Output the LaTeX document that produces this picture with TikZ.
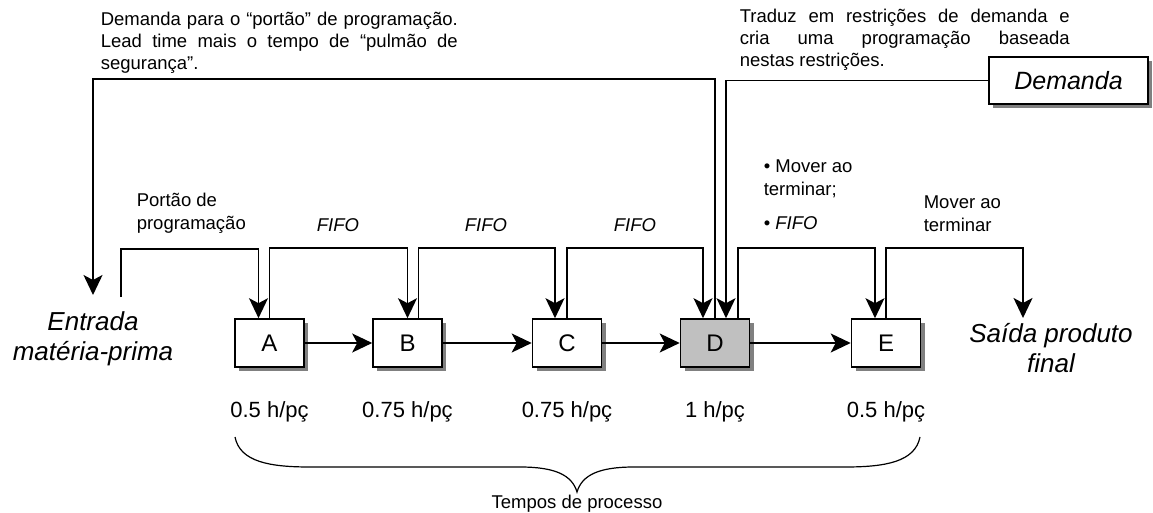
\documentclass[tikz,border=0pt]{standalone}
\usepackage{fontspec}
\setmainfont{Liberation Sans}
\usetikzlibrary{arrows.meta,shadows,calc}
\definecolor{shgray}{RGB}{128,128,128}
\definecolor{dgray}{RGB}{192,192,192}
\begin{document}
\begin{tikzpicture}[x=1pt,y=-1pt,line width=1.6pt,
  arr/.style={-{Stealth[length=20pt,width=19pt,inset=5pt]}},
  box/.style={draw, fill=white, minimum width=69pt, minimum height=48pt, inner sep=0pt,
    font=\fontsize{24}{28}\selectfont,
    drop shadow={shadow xshift=4pt, shadow yshift=-4pt, fill=shgray, opacity=1}},
  small/.style={font=\fontsize{18.5}{22}\selectfont, inner sep=0pt},
  big/.style={font=\fontsize{26}{30}\selectfont\itshape, inner sep=0pt, align=center},
  num/.style={font=\fontsize{22}{26}\selectfont, inner sep=0pt, anchor=base}]
\useasboundingbox (0,0) rectangle (1153,513);

% process boxes
\node[box] (A) at (269.5,343) {A};
\node[box] (B) at (407.5,343) {B};
\node[box] (C) at (567,343) {C};
\node[box, fill=dgray] (D) at (715,343) {D};
\node[box] (E) at (886,343) {E};

% demand box
\node[draw, fill=white, minimum width=159pt, minimum height=47pt, inner sep=0pt,
  font=\fontsize{25}{30}\selectfont\itshape,
  drop shadow={shadow xshift=4pt, shadow yshift=-4pt, fill=shgray, opacity=1}]
  (dem) at (1068.5,80.5) {Demanda};

% entry / exit
\node[big, anchor=base] (ent) at (93,360) {Entrada\\matéria-prima};
\node[big, anchor=base] (sai) at (1051,372) {Saída produto\\final};
\coordinate (ein) at (93,295);
\coordinate (eout) at (121,297);
\coordinate (sout) at (1023,318);

% flow arrows
\draw[arr] (A) -- (B);
\draw[arr] (B) -- (C);
\draw[arr] (C) -- (D);
\draw[arr] (D) -- (E);

% loops
\draw[arr] (eout) -- ++(0,-48) -| ([xshift=-11pt]A.north);
\draw[arr] (A.north) -- ++(0,-70) -| (B.north);
\draw[arr] ([xshift=11pt]B.north) -- ++(0,-70) -| ([xshift=-12pt]C.north);
\draw[arr] (C.north) -- ++(0,-70) -| ([xshift=-12pt]D.north);
\draw[arr] ([xshift=23pt]D.north) -- ++(0,-70) -| ([xshift=-11pt]E.north);
\draw[arr] (E.north) -- ++(0,-70) -| (sout);
\draw[arr] (D.north) -- ++(0,-239) -| (ein);
\draw[arr] (dem.west) -| ([xshift=11pt]D.north);

% top texts
\node[small, anchor=base west] (t1) at (100,26) {\parbox[t]{357pt}{\fontsize{18.5}{22}\selectfont
  \makebox[357pt][s]{Demanda para o “portão” de programação.}\\
  \makebox[357pt][s]{Lead time mais o tempo de “pulmão de}\\
  segurança”.}};
\node[small, anchor=base west] (t2) at (739,23) {\parbox[t]{330pt}{\fontsize{18.5}{22}\selectfont
  \makebox[330pt][s]{Traduz em restrições de demanda e}\\
  \makebox[330pt][s]{cria uma programação baseada}\\
  nestas restrições.}};

% loop labels
\node[small, anchor=base west] (lp) at (136,207) {\parbox[t]{150pt}{\fontsize{18.5}{22}\selectfont
  Portão de\\ programação}};
\node[small, anchor=base, font=\fontsize{18.5}{22}\selectfont\itshape] (f1) at (338,231) {FIFO};
\node[small, anchor=base, font=\fontsize{18.5}{22}\selectfont\itshape] (f2) at (486,231) {FIFO};
\node[small, anchor=base, font=\fontsize{18.5}{22}\selectfont\itshape] (f3) at (635,231) {FIFO};
\node[small, anchor=base west] (lm) at (763,173) {\parbox[t]{150pt}{\fontsize{18.5}{23}\selectfont
  • Mover ao\\ terminar;\\[11pt] • \textit{FIFO}}};
\node[small, anchor=base west] (lm2) at (923,208) {\parbox[t]{150pt}{\fontsize{18.5}{23}\selectfont
  Mover ao\\ terminar}};

% process times
\node[num] (nA) at (269.5,417) {0.5 h/pç};
\node[num] (nB) at (407.5,417) {0.75 h/pç};
\node[num] (nC) at (567,417) {0.75 h/pç};
\node[num] (nD) at (715,417) {1 h/pç};
\node[num] (nE) at (886,417) {0.5 h/pç};

% brace
\draw[line width=1.2pt] (235,437) .. controls (240,462) and (270,467) .. (310,467) -- (520,467)
  .. controls (555,467) and (572,475) .. (577,492)
  .. controls (582,475) and (599,467) .. (634,467) -- (845,467)
  .. controls (885,467) and (915,462) .. (920,437);
\node[small, anchor=base] (tp) at (577,508) {Tempos de processo};
\end{tikzpicture}
\end{document}
